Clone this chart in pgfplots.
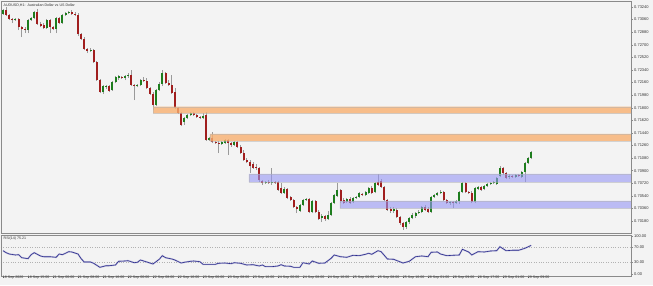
\documentclass[border=0pt]{standalone}
\usepackage{fontspec}
\setmainfont{Liberation Sans}
\usepackage{pgfplots}
\usepackage{pgfplotstable}
\pgfplotsset{compat=1.18}
\definecolor{bg}{HTML}{F3F3F3}
\definecolor{frame}{HTML}{8A8A8A}
\definecolor{bull}{HTML}{1E7D1E}
\definecolor{bear}{HTML}{A01E1E}
\definecolor{wick}{HTML}{9A9A9A}
\definecolor{zoneO}{RGB}{248,176,112}
\definecolor{zoneB}{RGB}{150,150,245}
\definecolor{rsiline}{HTML}{2B2B8C}
\definecolor{txt}{HTML}{333333}

\pgfplotstableread{
i o h l c
0 0.73140 0.73211 0.73126 0.73197
1 0.73197 0.73240 0.73111 0.73126
2 0.73126 0.73140 0.73054 0.73068
3 0.73068 0.73083 0.73011 0.73054
4 0.73054 0.73083 0.73040 0.73068
5 0.73068 0.73083 0.72911 0.72954
6 0.72954 0.72968 0.72811 0.72925
7 0.72925 0.72954 0.72868 0.72911
8 0.72911 0.73068 0.72868 0.73054
9 0.73054 0.73097 0.73040 0.73083
10 0.73083 0.73183 0.73068 0.73168
11 0.73168 0.73211 0.72983 0.72997
12 0.72997 0.73025 0.72954 0.72968
13 0.72983 0.73011 0.72925 0.72940
14 0.72940 0.73068 0.72925 0.73054
15 0.73054 0.73068 0.72868 0.72954
16 0.72954 0.72968 0.72911 0.72925
17 0.72925 0.73097 0.72868 0.73083
18 0.73083 0.73097 0.72997 0.73011
19 0.73011 0.73140 0.72997 0.73126
20 0.73126 0.73168 0.73111 0.73154
21 0.73154 0.73183 0.73140 0.73168
22 0.73168 0.73197 0.73126 0.73140
23 0.73140 0.73168 0.73111 0.73126
24 0.73126 0.73154 0.72825 0.72854
25 0.72854 0.72868 0.72768 0.72782
26 0.72782 0.72811 0.72625 0.72639
27 0.72639 0.72654 0.72582 0.72611
28 0.72611 0.72654 0.72596 0.72625
29 0.72625 0.72639 0.72439 0.72453
30 0.72453 0.72468 0.72182 0.72196
31 0.72196 0.72210 0.72010 0.72024
32 0.72024 0.72125 0.71996 0.72110
33 0.72096 0.72125 0.72067 0.72110
34 0.72110 0.72125 0.72024 0.72039
35 0.72053 0.72182 0.72039 0.72167
36 0.72167 0.72253 0.72153 0.72239
37 0.72225 0.72268 0.72196 0.72253
38 0.72239 0.72253 0.72210 0.72225
39 0.72225 0.72268 0.72196 0.72253
40 0.72253 0.72296 0.72225 0.72268
41 0.72268 0.72339 0.72110 0.72125
42 0.72125 0.72139 0.71910 0.72110
43 0.72110 0.72139 0.72096 0.72125
44 0.72125 0.72210 0.72110 0.72196
45 0.72196 0.72239 0.72167 0.72182
46 0.72182 0.72225 0.72067 0.72082
47 0.72082 0.72096 0.71982 0.71996
48 0.71996 0.72024 0.71767 0.71839
49 0.71839 0.72067 0.71824 0.72053
50 0.72053 0.72167 0.72039 0.72139
51 0.72139 0.72339 0.72110 0.72296
52 0.72296 0.72310 0.72139 0.72153
53 0.72153 0.72196 0.72110 0.72125
54 0.72125 0.72268 0.71996 0.72010
55 0.72024 0.72082 0.71781 0.71796
56 0.71796 0.71810 0.71710 0.71724
57 0.71724 0.71738 0.71538 0.71553
58 0.71595 0.71667 0.71553 0.71653
59 0.71653 0.71710 0.71638 0.71695
60 0.71695 0.71738 0.71681 0.71724
61 0.71724 0.71738 0.71681 0.71695
62 0.71695 0.71710 0.71653 0.71667
63 0.71667 0.71681 0.71638 0.71653
64 0.71653 0.71724 0.71638 0.71681
65 0.71695 0.71738 0.71324 0.71338
66 0.71338 0.71381 0.71324 0.71367
67 0.71367 0.71452 0.71295 0.71309
68 0.71309 0.71324 0.71281 0.71295
69 0.71295 0.71324 0.71152 0.71281
70 0.71281 0.71324 0.71267 0.71309
71 0.71295 0.71352 0.71281 0.71338
72 0.71338 0.71352 0.71124 0.71295
73 0.71295 0.71309 0.71238 0.71267
74 0.71267 0.71324 0.71252 0.71309
75 0.71309 0.71324 0.71224 0.71238
76 0.71238 0.71267 0.71138 0.71152
77 0.71152 0.71195 0.71038 0.71052
78 0.71052 0.71081 0.71009 0.71024
79 0.71024 0.71052 0.70866 0.70966
80 0.70995 0.71024 0.70923 0.70938
81 0.70952 0.70995 0.70909 0.70938
82 0.70938 0.70952 0.70737 0.70766
83 0.70752 0.70766 0.70695 0.70723
84 0.70723 0.70752 0.70709 0.70737
85 0.70737 0.70766 0.70709 0.70723
86 0.70723 0.70938 0.70695 0.70737
87 0.70737 0.70752 0.70709 0.70723
88 0.70737 0.70752 0.70609 0.70623
89 0.70652 0.70723 0.70566 0.70580
90 0.70580 0.70666 0.70566 0.70637
91 0.70637 0.70652 0.70494 0.70509
92 0.70523 0.70537 0.70466 0.70480
93 0.70480 0.70494 0.70366 0.70380
94 0.70380 0.70394 0.70294 0.70351
95 0.70323 0.70423 0.70308 0.70409
96 0.70409 0.70494 0.70394 0.70480
97 0.70480 0.70509 0.70466 0.70494
98 0.70494 0.70509 0.70294 0.70308
99 0.70308 0.70480 0.70294 0.70466
100 0.70466 0.70480 0.70294 0.70308
101 0.70308 0.70337 0.70194 0.70208
102 0.70223 0.70280 0.70165 0.70251
103 0.70251 0.70265 0.70180 0.70208
104 0.70208 0.70323 0.70194 0.70265
105 0.70265 0.70451 0.70251 0.70437
106 0.70437 0.70566 0.70423 0.70552
107 0.70537 0.70723 0.70523 0.70623
108 0.70623 0.70637 0.70437 0.70466
109 0.70480 0.70509 0.70423 0.70437
110 0.70451 0.70509 0.70437 0.70494
111 0.70494 0.70523 0.70423 0.70437
112 0.70451 0.70523 0.70437 0.70509
113 0.70509 0.70537 0.70494 0.70523
114 0.70523 0.70594 0.70509 0.70580
115 0.70566 0.70580 0.70537 0.70552
116 0.70552 0.70609 0.70537 0.70594
117 0.70580 0.70666 0.70566 0.70652
118 0.70652 0.70680 0.70566 0.70580
119 0.70594 0.70737 0.70580 0.70723
120 0.70737 0.70852 0.70680 0.70695
121 0.70752 0.70780 0.70652 0.70666
122 0.70666 0.70680 0.70466 0.70480
123 0.70480 0.70494 0.70323 0.70337
124 0.70351 0.70380 0.70294 0.70323
125 0.70323 0.70380 0.70294 0.70351
126 0.70337 0.70366 0.70223 0.70237
127 0.70237 0.70251 0.70123 0.70151
128 0.70151 0.70165 0.70051 0.70094
129 0.70094 0.70180 0.70065 0.70165
130 0.70165 0.70237 0.70137 0.70223
131 0.70223 0.70294 0.70208 0.70265
132 0.70251 0.70308 0.70223 0.70294
133 0.70294 0.70337 0.70280 0.70308
134 0.70308 0.70394 0.70294 0.70380
135 0.70380 0.70409 0.70323 0.70337
136 0.70351 0.70380 0.70294 0.70308
137 0.70308 0.70537 0.70294 0.70523
138 0.70523 0.70566 0.70509 0.70552
139 0.70552 0.70594 0.70537 0.70580
140 0.70580 0.70623 0.70566 0.70594
141 0.70594 0.70609 0.70466 0.70480
142 0.70480 0.70494 0.70423 0.70437
143 0.70437 0.70466 0.70409 0.70451
144 0.70451 0.70466 0.70366 0.70437
145 0.70437 0.70480 0.70423 0.70466
146 0.70466 0.70609 0.70423 0.70594
147 0.70594 0.70737 0.70580 0.70723
148 0.70723 0.70737 0.70580 0.70594
149 0.70594 0.70609 0.70566 0.70580
150 0.70580 0.70609 0.70437 0.70451
151 0.70451 0.70666 0.70437 0.70652
152 0.70637 0.70680 0.70623 0.70666
153 0.70666 0.70680 0.70609 0.70623
154 0.70637 0.70695 0.70623 0.70680
155 0.70680 0.70723 0.70666 0.70709
156 0.70709 0.70737 0.70695 0.70723
157 0.70723 0.70752 0.70709 0.70737
158 0.70709 0.70809 0.70695 0.70795
159 0.70823 0.70966 0.70809 0.70938
160 0.70938 0.70952 0.70838 0.70866
161 0.70866 0.70880 0.70780 0.70795
162 0.70809 0.70852 0.70780 0.70823
163 0.70823 0.70838 0.70795 0.70809
164 0.70809 0.70852 0.70795 0.70838
165 0.70838 0.70852 0.70809 0.70823
166 0.70809 0.70895 0.70795 0.70880
167 0.70880 0.71024 0.70737 0.71009
168 0.71009 0.71095 0.70995 0.71081
169 0.71081 0.71181 0.71066 0.71166
}\candles

\pgfplotsset{
  candle/.style={draw=none, mark=none, forget plot,
    error bars/.cd, y dir=plus, y explicit, error mark=none,
    error bar style={draw=#1}, /pgfplots/.cd},
}

\begin{document}
\begin{tikzpicture}
\fill[bg] (0pt,0pt) rectangle (653pt,285pt);
\begin{axis}[
  at={(1pt,52pt)}, anchor=south west,
  scale only axis, width=630pt, height=232pt,
  xmin=-0.64, xmax=200.96, ymin=0.70008, ymax=0.73326,
  axis line style={draw=frame, line width=0.8pt},
  xtick=\empty,
  ytick={0.70180,0.70360,0.70540,0.70720,0.70900,0.71080,0.71260,0.71440,0.71620,0.71800,0.71980,0.72160,0.72340,0.72520,0.72700,0.72880,0.73060,0.73240},
  yticklabels={0.70180,0.70360,0.70540,0.70720,0.70900,0.71080,0.71260,0.71440,0.71620,0.71800,0.71980,0.72160,0.72340,0.72520,0.72700,0.72880,0.73060,0.73240},
  ytick pos=right, yticklabel pos=right,
  tick align=outside, major tick length=2pt,
  tick style={draw=frame, line width=0.4pt},
  yticklabel style={font=\fontsize{4}{4.5}\selectfont, text=txt, inner sep=0.5pt, xshift=0.5pt},
  scaled y ticks=false,
  axis background/.style={fill=bg},
  clip=true,
]
% wicks
\addplot[candle={wick, line width=0.6pt}]
  table[x=i, y=l, y error expr=\thisrow{h}-\thisrow{l}] {\candles};
% bull bodies
\addplot[restrict expr to domain={\thisrow{c}-\thisrow{o}}{0:1}, candle={bull, line width=2pt}]
  table[x=i, y=o, y error expr=\thisrow{c}-\thisrow{o}] {\candles};
% bear bodies
\addplot[restrict expr to domain={\thisrow{o}-\thisrow{c}}{0.000001:1}, candle={bear, line width=2pt}]
  table[x=i, y=c, y error expr=\thisrow{o}-\thisrow{c}] {\candles};
% zones
\addplot[fill=zoneO, fill opacity=0.8, draw=black!30, draw opacity=0.5, line width=0.4pt]
  coordinates {(48,0.71720) (200.9,0.71720) (200.9,0.71814) (48,0.71814) (48,0.71720)};
\addplot[fill=zoneO, fill opacity=0.8, draw=black!30, draw opacity=0.5, line width=0.4pt]
  coordinates {(66.2,0.71324) (200.9,0.71324) (200.9,0.71424) (66.2,0.71424) (66.2,0.71324)};
\addplot[fill=zoneB, fill opacity=0.6, draw=black!30, draw opacity=0.5, line width=0.4pt]
  coordinates {(78.7,0.70737) (200.9,0.70737) (200.9,0.70852) (78.7,0.70852) (78.7,0.70737)};
\addplot[fill=zoneB, fill opacity=0.6, draw=black!30, draw opacity=0.5, line width=0.4pt]
  coordinates {(107.8,0.70361) (200.9,0.70361) (200.9,0.70466) (107.8,0.70466) (107.8,0.70361)};
\node[anchor=north west, inner sep=0pt, font=\fontsize{3.6}{4}\selectfont, text=txt]
  at (rel axis cs:0.004,0.99) {AUDUSD,H1:\ \ Australian Dollar vs US Dollar};
\end{axis}

\begin{axis}[
  at={(1pt,9pt)}, anchor=south west,
  scale only axis, width=630pt, height=41pt,
  xmin=-0.64, xmax=200.96, ymin=-5.3, ymax=102.6,
  axis line style={draw=frame, line width=0.8pt},
  xtick={0,8,...,168},
  xticklabels={18 Sep 2020,18 Sep 15:00,21 Sep 00:00,21 Sep 08:00,21 Sep 16:00,22 Sep 00:00,22 Sep 08:00,22 Sep 16:00,23 Sep 00:00,23 Sep 08:00,23 Sep 16:00,24 Sep 00:00,24 Sep 08:00,24 Sep 16:00,25 Sep 00:00,25 Sep 08:00,25 Sep 16:00,28 Sep 01:00,28 Sep 09:00,28 Sep 17:00,29 Sep 01:00,29 Sep 09:00},
  xtick pos=bottom, ytick pos=right, yticklabel pos=right,
  tick align=outside, major tick length=2pt,
  tick style={draw=frame, line width=0.4pt},
  xticklabel style={anchor=north west, font=\fontsize{3.6}{4}\selectfont, text=txt, inner sep=0.3pt, xshift=-0.6pt, yshift=2.2pt},
  ytick={30,70}, yticklabels={30.00,70.00},
  extra y ticks={0,100}, extra y tick labels={0.00,100.00},
  extra y tick style={grid=none},
  ymajorgrids, grid style={draw=black!30, dotted, line width=0.4pt},
  yticklabel style={font=\fontsize{4}{4.5}\selectfont, text=txt, inner sep=0.5pt, xshift=0.5pt},
  axis background/.style={fill=bg},
  clip=true,
]
\addplot[rsiline!30, line width=1.6pt] coordinates {
(0,61.3) (1,56.1) (2,52.6) (4,50.0) (5,50.8) (6,42.9) (8,40.3) (9,50.8) (10,56.1) (12,47.4) (13,45.5) (15,45.5) (17,43.9) (18,52.6) (19,50.8) (20,54.5) (21,58.7) (22,57.9) (24,52.6) (25,40.3) (26,31.6) (28,31.6) (29,28.2) (31,17.6) (33,21.8) (34,21.8) (36,23.7) (37,33.4) (39,34.2) (40,35.0) (42,29.7) (43,30.8) (44,36.8) (46,31.6) (48,26.3) (50,38.7) (51,48.2) (52,42.9) (54,39.5) (55,36.8) (57,28.9) (58,30.8) (60,33.4) (61,34.2) (63,32.4) (64,25.5) (66,25.5) (68,25.5) (69,28.2) (71,28.9) (73,27.1) (74,29.7) (76,28.2) (78,23.7) (80,24.5) (82,21.1) (83,23.7) (84,19.2) (86,19.2) (88,21.1) (89,24.5) (90,21.1) (92,20.3) (93,17.6) (95,17.6) (96,29.7) (98,26.3) (99,34.2) (101,28.2) (103,28.9) (105,41.3) (106,50.0) (108,45.5) (110,43.9) (112,49.2) (114,48.2) (116,51.8) (117,54.5) (118,51.8) (120,61.3) (121,58.7) (123,39.5) (125,38.7) (128,28.9) (130,33.4) (132,45.5) (134,47.4) (136,45.5) (137,57.1) (139,57.9) (140,52.6) (142,48.2) (144,49.2) (146,50.0) (147,65.0) (149,57.9) (150,50.0) (152,58.7) (154,57.9) (156,60.5) (158,61.3) (159,71.8) (161,61.3) (163,62.4) (165,62.4) (167,67.6) (169,75.2)};
\addplot[rsiline, line width=0.6pt] coordinates {
(0,61.3) (1,56.1) (2,52.6) (4,50.0) (5,50.8) (6,42.9) (8,40.3) (9,50.8) (10,56.1) (12,47.4) (13,45.5) (15,45.5) (17,43.9) (18,52.6) (19,50.8) (20,54.5) (21,58.7) (22,57.9) (24,52.6) (25,40.3) (26,31.6) (28,31.6) (29,28.2) (31,17.6) (33,21.8) (34,21.8) (36,23.7) (37,33.4) (39,34.2) (40,35.0) (42,29.7) (43,30.8) (44,36.8) (46,31.6) (48,26.3) (50,38.7) (51,48.2) (52,42.9) (54,39.5) (55,36.8) (57,28.9) (58,30.8) (60,33.4) (61,34.2) (63,32.4) (64,25.5) (66,25.5) (68,25.5) (69,28.2) (71,28.9) (73,27.1) (74,29.7) (76,28.2) (78,23.7) (80,24.5) (82,21.1) (83,23.7) (84,19.2) (86,19.2) (88,21.1) (89,24.5) (90,21.1) (92,20.3) (93,17.6) (95,17.6) (96,29.7) (98,26.3) (99,34.2) (101,28.2) (103,28.9) (105,41.3) (106,50.0) (108,45.5) (110,43.9) (112,49.2) (114,48.2) (116,51.8) (117,54.5) (118,51.8) (120,61.3) (121,58.7) (123,39.5) (125,38.7) (128,28.9) (130,33.4) (132,45.5) (134,47.4) (136,45.5) (137,57.1) (139,57.9) (140,52.6) (142,48.2) (144,49.2) (146,50.0) (147,65.0) (149,57.9) (150,50.0) (152,58.7) (154,57.9) (156,60.5) (158,61.3) (159,71.8) (161,61.3) (163,62.4) (165,62.4) (167,67.6) (169,75.2)};
\node[anchor=north west, inner sep=0pt, font=\fontsize{3.6}{4}\selectfont, text=txt]
  at (rel axis cs:0.004,0.95) {RSI(14) 75.21};
\end{axis}
\pgfresetboundingbox
\useasboundingbox (0pt,0pt) rectangle (653pt,285pt);
\end{tikzpicture}
\end{document}
